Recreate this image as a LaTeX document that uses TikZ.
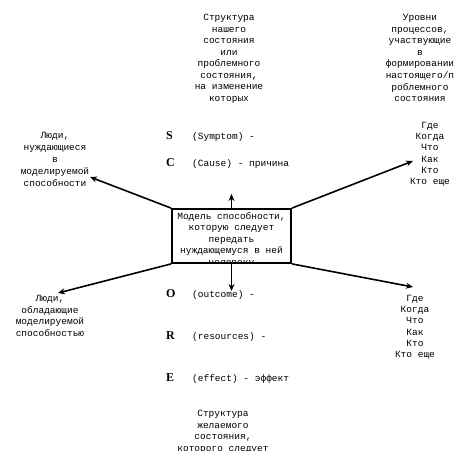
\documentclass[tikz,border=0pt]{standalone}
\usepackage{fontspec}
\setmainfont{Liberation Mono}
\newfontfamily\tnr{Liberation Serif}
\usetikzlibrary{arrows.meta}
\begin{document}
\begin{tikzpicture}[x=1pt,y=-1pt,
  txt/.style={font=\fontsize{9.5}{11.5}\selectfont, align=center, inner sep=0pt, anchor=north},
  lbl/.style={font=\fontsize{9.5}{11.5}\selectfont, anchor=mid west, inner sep=0pt},
  ltr/.style={font=\tnr\bfseries\fontsize{12}{14}\selectfont, anchor=mid west, inner sep=0pt},
  arr/.style={line width=1.6pt, -{Stealth[length=7pt,width=6pt]}},
  mainbox/.style={draw, line width=1.8pt, minimum width=119pt, minimum height=54pt, inner sep=0pt}
]
\useasboundingbox (0,0) rectangle (467,455);

% top centre text (clipped)
\begin{scope}
  \clip (150,0) rectangle (310,105);
  \node[txt] (topc) at (229,14) {Структура\\нашего\\состояния\\или\\проблемного\\состояния,\\на изменение\\которых\\направлены};
\end{scope}

% top right text
\node[txt, font=\fontsize{9.5}{11.6}\selectfont] (topr) at (420,14) {Уровни\\процессов,\\участвующие\\в\\формировании\\настоящего/п\\роблемного\\состояния};

% left top text
\node[txt, font=\fontsize{9.5}{12}\selectfont] (lt) at (55,132.5) {Люди,\\нуждающиеся\\в\\моделируемой\\способности};

% right top list
\node[txt, font=\fontsize{9.5}{11.2}\selectfont] (rt) at (430,122) {Где\\Когда\\Что\\Как\\Кто\\Кто еще};

% SCORE lines
\node[ltr] (S) at (166,137) {S};
\node[lbl] (Sl) at (192,137) {(Symptom) -};
\node[ltr] (C) at (166,164) {C};
\node[lbl] (Cl) at (192,164) {(Cause) - причина};
\node[ltr] (O) at (166,295) {O};
\node[lbl] (Ol) at (192,295) {(outcome) -};
\node[ltr] (R) at (166,337) {R};
\node[lbl] (Rl) at (192,337) {(resources) -};
\node[ltr] (E) at (166,379) {E};
\node[lbl] (El) at (192,379) {(effect) - эффект};

% central box
\node[mainbox] (box) at (231.5,236) {};
\begin{scope}
  \clip (172,209) rectangle (291,263);
  \node[txt] (boxt) at (231.5,212) {Модель способности,\\которую следует\\передать\\нуждающемуся в ней\\человеку};
\end{scope}

% bottom left text
\node[txt, font=\fontsize{9.5}{11.7}\selectfont] (lb) at (50,295) {Люди,\\обладающие\\моделируемой\\способностью};

% bottom right list
\node[txt, font=\fontsize{9.5}{11.2}\selectfont] (rb) at (415,295) {Где\\Когда\\Что\\Как\\Кто\\Кто еще};

% bottom centre text (clipped)
\begin{scope}
  \clip (150,395) rectangle (310,450);
  \node[txt] (botc) at (223,410) {Структура\\желаемого\\состояния,\\которого следует};
\end{scope}

% arrow ends
\coordinate (up) at (231.5,194);
\coordinate (down) at (231.5,291);
\coordinate (tl) at (90,177);
\coordinate (tr) at (413,161);
\coordinate (bl) at (58,293);
\coordinate (br) at (413,287);

\draw[arr] (box.north) -- (up);
\draw[arr] (box.south) -- (down);
\draw[arr] (box.north west) -- (tl);
\draw[arr] (box.north east) -- (tr);
\draw[arr] (box.south west) -- (bl);
\draw[arr] (box.south east) -- (br);
\end{tikzpicture}
\end{document}
